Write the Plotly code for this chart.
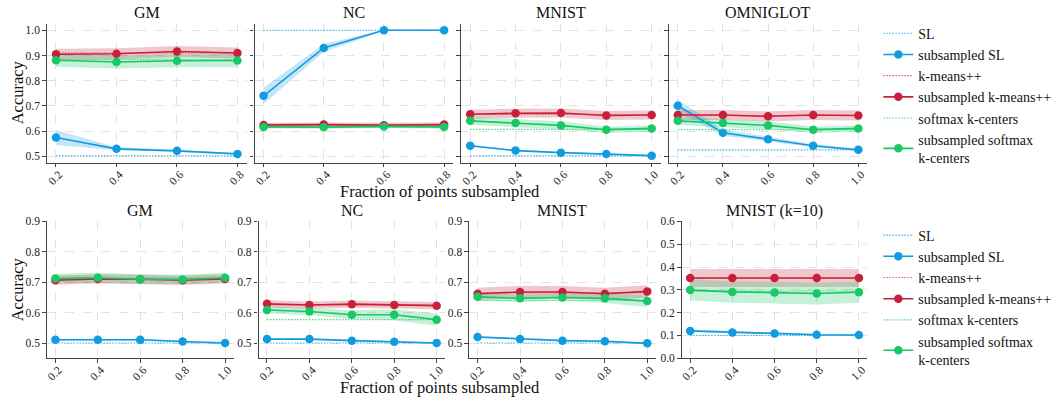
import plotly.graph_objects as go

# ---------------- data ----------------
X4 = [0.2, 0.4, 0.6, 0.8]
X5 = [0.2, 0.4, 0.6, 0.8, 1.0]

TOP_TITLES = ["GM", "NC", "MNIST", "OMNIGLOT"]
BOT_TITLES = ["GM", "NC", "MNIST", "MNIST (k=10)"]
SERIES = ["SL", "k-means++", "softmax k-centers"]
SUB_NAMES = ["subsampled SL", "subsampled k-means++", "subsampled softmax<br>k-centers"]

# top row
t_gm_sl = [0.575, 0.530, 0.522, 0.510]
t_gm_sl_err = [0.030, 0.006, 0.004, 0.003]
t_gm_km = [0.905, 0.907, 0.916, 0.910]
t_gm_km_err = [0.022, 0.022, 0.022, 0.022]
t_gm_sm = [0.881, 0.874, 0.879, 0.880]
t_gm_sm_err = [0.026, 0.026, 0.026, 0.026]
t_gm_base = [0.502, 0.910, 0.884]

t_nc_sl = [0.740, 0.930, 1.000, 1.000]
t_nc_sl_err = [0.032, 0.016, 0.002, 0.001]
t_nc_km = [0.625, 0.626, 0.624, 0.626]
t_nc_km_err = [0.008, 0.008, 0.008, 0.008]
t_nc_sm = [0.617, 0.616, 0.619, 0.617]
t_nc_sm_err = [0.006, 0.006, 0.006, 0.006]
t_nc_base = [1.000, 0.623, 0.615]

t_mn_sl = [0.542, 0.523, 0.515, 0.510, 0.503]
t_mn_sl_err = [0.004, 0.003, 0.003, 0.003, 0.002]
t_mn_km = [0.667, 0.671, 0.672, 0.662, 0.664]
t_mn_km_err = [0.018, 0.018, 0.018, 0.018, 0.018]
t_mn_sm = [0.641, 0.632, 0.623, 0.606, 0.611]
t_mn_sm_err = [0.016, 0.016, 0.016, 0.013, 0.013]
t_mn_base = [0.502, 0.666, 0.607]

t_om_sl = [0.701, 0.594, 0.568, 0.542, 0.526]
t_om_sl_err = [0.025, 0.012, 0.010, 0.006, 0.004]
t_om_km = [0.664, 0.664, 0.659, 0.664, 0.662]
t_om_km_err = [0.020, 0.020, 0.020, 0.020, 0.020]
t_om_sm = [0.641, 0.632, 0.623, 0.606, 0.611]
t_om_sm_err = [0.016, 0.016, 0.016, 0.013, 0.013]
t_om_base = [0.526, 0.662, 0.606]

# bottom row
b_gm_sl = [0.511, 0.511, 0.511, 0.505, 0.500]
b_gm_sl_err = [0.003, 0.003, 0.003, 0.003, 0.003]
b_gm_km = [0.707, 0.711, 0.710, 0.707, 0.711]
b_gm_km_err = [0.015, 0.015, 0.015, 0.015, 0.015]
b_gm_sm = [0.712, 0.715, 0.710, 0.709, 0.715]
b_gm_sm_err = [0.016, 0.016, 0.016, 0.016, 0.016]
b_gm_base = [0.500, 0.712, 0.715]

b_nc_sl = [0.513, 0.513, 0.508, 0.504, 0.500]
b_nc_sl_err = [0.003, 0.003, 0.003, 0.003, 0.003]
b_nc_km = [0.629, 0.625, 0.628, 0.625, 0.623]
b_nc_km_err = [0.012, 0.012, 0.012, 0.012, 0.012]
b_nc_sm = [0.609, 0.604, 0.593, 0.593, 0.577]
b_nc_sm_err = [0.012, 0.012, 0.015, 0.018, 0.020]
b_nc_base = [0.500, 0.625, 0.577]

b_mn_sl = [0.520, 0.513, 0.508, 0.506, 0.499]
b_mn_sl_err = [0.003, 0.003, 0.003, 0.003, 0.003]
b_mn_km = [0.662, 0.668, 0.668, 0.662, 0.670]
b_mn_km_err = [0.020, 0.020, 0.020, 0.020, 0.020]
b_mn_sm = [0.652, 0.647, 0.650, 0.647, 0.638]
b_mn_sm_err = [0.012, 0.012, 0.012, 0.015, 0.020]
b_mn_base = [0.500, 0.665, 0.640]

b_k10_sl = [0.120, 0.113, 0.109, 0.103, 0.102]
b_k10_sl_err = [0.005, 0.005, 0.005, 0.004, 0.004]
b_k10_km = [0.352, 0.352, 0.352, 0.352, 0.352]
b_k10_km_err = [0.040, 0.040, 0.040, 0.040, 0.040]
b_k10_sm = [0.299, 0.291, 0.288, 0.284, 0.290]
b_k10_sm_err = [0.046, 0.047, 0.047, 0.048, 0.046]
b_k10_base = [0.100, 0.350, 0.295]

TOP_TICKS = [0.5, 0.6, 0.7, 0.8, 0.9, 1.0]
BOT_TICKS = [0.5, 0.6, 0.7, 0.8, 0.9]
K10_TICKS = [0.0, 0.1, 0.2, 0.3, 0.4, 0.5, 0.6]

# ---------------- style ----------------
W, H = 1057, 406
FONT = "Liberation Serif, Times New Roman, Times, serif"
COLORS = ["#129CE0", "#C8203A", "#17C864"]
FILLS = ["rgba(18,156,224,0.25)", "rgba(200,32,58,0.25)", "rgba(23,200,100,0.25)"]
BASE_COLORS = ["#3AAEE8", "#D8606F", "#4FD68A"]
AX = "#444444"

def px(x):
    return x / W

def py(y):
    return 1 - y / H

panels = [
    ("top", (45, 245), X4, [t_gm_sl, t_gm_km, t_gm_sm], [t_gm_sl_err, t_gm_km_err, t_gm_sm_err], t_gm_base, [0.17, 0.83], [0.475, 1.025], TOP_TICKS, True, TOP_TITLES[0]),
    ("top", (253, 452), X4, [t_nc_sl, t_nc_km, t_nc_sm], [t_nc_sl_err, t_nc_km_err, t_nc_sm_err], t_nc_base, [0.17, 0.83], [0.475, 1.025], TOP_TICKS, False, TOP_TITLES[1]),
    ("top", (460, 660), X5, [t_mn_sl, t_mn_km, t_mn_sm], [t_mn_sl_err, t_mn_km_err, t_mn_sm_err], t_mn_base, [0.16, 1.04], [0.475, 1.025], TOP_TICKS, False, TOP_TITLES[2]),
    ("top", (668, 867), X5, [t_om_sl, t_om_km, t_om_sm], [t_om_sl_err, t_om_km_err, t_om_sm_err], t_om_base, [0.16, 1.04], [0.475, 1.025], TOP_TICKS, False, TOP_TITLES[3]),
    ("bot", (45, 232), X5, [b_gm_sl, b_gm_km, b_gm_sm], [b_gm_sl_err, b_gm_km_err, b_gm_sm_err], b_gm_base, [0.16, 1.04], [0.45, 0.9], BOT_TICKS, True, BOT_TITLES[0]),
    ("bot", (257, 444), X5, [b_nc_sl, b_nc_km, b_nc_sm], [b_nc_sl_err, b_nc_km_err, b_nc_sm_err], b_nc_base, [0.16, 1.04], [0.45, 0.9], BOT_TICKS, True, BOT_TITLES[1]),
    ("bot", (468, 655), X5, [b_mn_sl, b_mn_km, b_mn_sm], [b_mn_sl_err, b_mn_km_err, b_mn_sm_err], b_mn_base, [0.16, 1.04], [0.45, 0.9], BOT_TICKS, True, BOT_TITLES[2]),
    ("bot", (681, 867), X5, [b_k10_sl, b_k10_km, b_k10_sm], [b_k10_sl_err, b_k10_km_err, b_k10_sm_err], b_k10_base, [0.16, 1.04], [0.0, 0.6], K10_TICKS, True, BOT_TITLES[3]),
]

YDOM = {"top": (18.5, 161.5), "bot": (222, 363)}
TITLE_Y = {"top": 7, "bot": 211}

fig = go.Figure()
layout = {}
annotations = []

for i, (row, xd, xs, series, errs, base, xr, yr, ticks, showlab, title) in enumerate(panels):
    n = i + 1
    xa = "x" if n == 1 else f"x{n}"
    ya = "y" if n == 1 else f"y{n}"
    legend = "legend" if row == "top" else "legend2"
    first = (i == 0) or (i == 4)

    for k in range(3):
        lo = [m - e for m, e in zip(series[k], errs[k])]
        hi = [m + e for m, e in zip(series[k], errs[k])]
        fig.add_trace(go.Scatter(
            x=list(xs) + list(xs)[::-1], y=hi + lo[::-1], xaxis=xa, yaxis=ya,
            fill="toself", fillcolor=FILLS[k], line=dict(width=0), mode="lines",
            showlegend=False, hoverinfo="skip", legend=legend))
    for k in range(3):
        fig.add_trace(go.Scatter(
            x=[xs[0], xs[-1]], y=[base[k], base[k]], xaxis=xa, yaxis=ya, mode="lines",
            line=dict(color=BASE_COLORS[k], width=1.1, dash="1.5px,1.5px"),
            name=SERIES[k], legend=legend, legendgroup=f"{row}_base{k}", showlegend=first))
        fig.add_trace(go.Scatter(
            x=xs, y=series[k], xaxis=xa, yaxis=ya, mode="lines+markers",
            line=dict(color=COLORS[k], width=1.6), marker=dict(color=COLORS[k], size=8.5),
            name=SUB_NAMES[k], legend=legend, legendgroup=f"{row}_sub{k}", showlegend=first))

    yd = YDOM[row]
    common = dict(showline=True, linecolor=AX, linewidth=1.3, ticks="outside", ticklen=3.5,
                  tickcolor=AX, tickwidth=1.1, showgrid=True, gridcolor="#e3e3e3",
                  griddash="dash", gridwidth=0.8, zeroline=False,
                  tickfont=dict(family=FONT, size=11.5, color="#222"))
    layout["xaxis" if n == 1 else f"xaxis{n}"] = dict(
        domain=[px(xd[0]), px(xd[1])], anchor=ya, range=xr,
        tickvals=xs, ticktext=[f"{v:.1f}" for v in xs], tickangle=-45,
        ticklabelstandoff=-4, ticklabelshift=3, **common)
    layout["yaxis" if n == 1 else f"yaxis{n}"] = dict(
        domain=[py(yd[1]), py(yd[0])], anchor=xa, range=yr,
        tickvals=ticks, ticktext=[f"{v:.1f}" for v in ticks], showticklabels=showlab, **common)
    annotations.append(dict(
        text=title, x=px((xd[0] + xd[1]) / 2), y=py(TITLE_Y[row]), xref="paper", yref="paper",
        showarrow=False, xanchor="center", yanchor="middle",
        font=dict(family=FONT, size=16, color="#111")))

for yc in (89, 292):
    annotations.append(dict(text="Accuracy", x=px(15), y=py(yc), xref="paper", yref="paper",
                            showarrow=False, textangle=-90, xanchor="center", yanchor="middle",
                            font=dict(family=FONT, size=16.5, color="#111")))
for yc in (191, 393):
    annotations.append(dict(text="Fraction of points subsampled", x=px(439), y=py(yc),
                            xref="paper", yref="paper", showarrow=False,
                            xanchor="center", yanchor="middle",
                            font=dict(family=FONT, size=16.5, color="#111")))

legend_style = dict(font=dict(family=FONT, size=14, color="#111"), bgcolor="rgba(0,0,0,0)",
                    xanchor="left", yanchor="top", traceorder="grouped", tracegroupgap=0,
                    itemwidth=30)

fig.update_layout(
    width=W, height=H, margin=dict(l=0, r=0, t=0, b=0),
    paper_bgcolor="white", plot_bgcolor="white",
    annotations=annotations,
    legend=dict(x=px(878), y=py(12), **legend_style),
    legend2=dict(x=px(878), y=py(220), **legend_style),
    **layout)

fig.write_html("out.html")
